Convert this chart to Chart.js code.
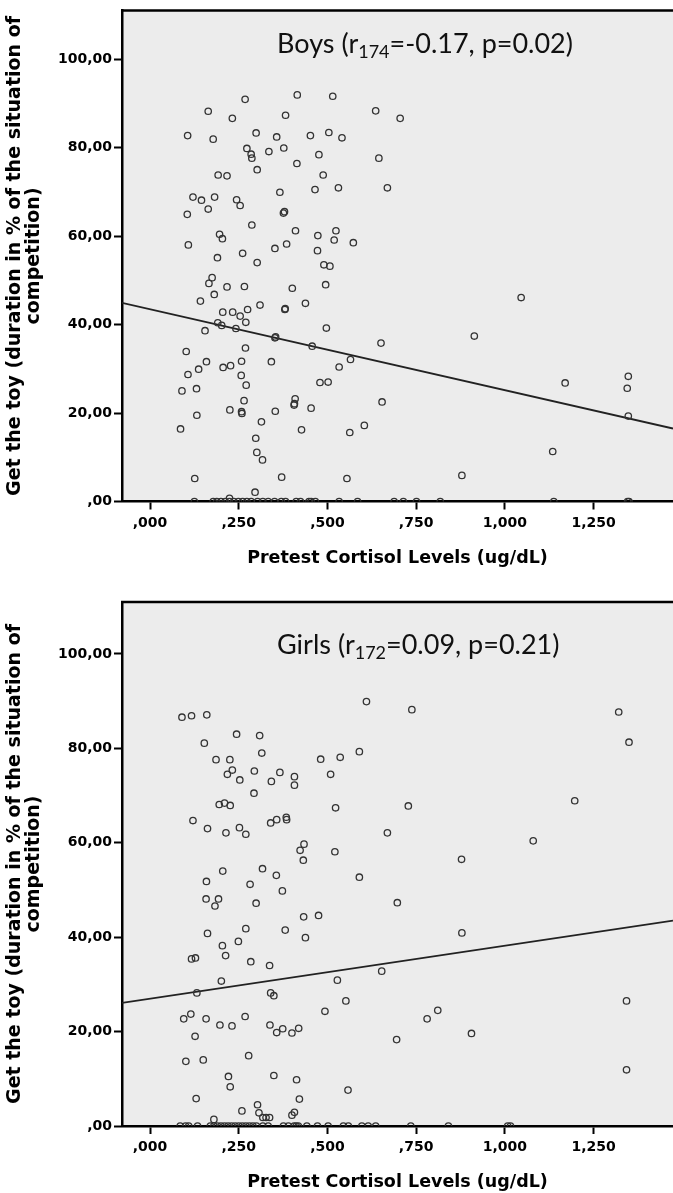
<!DOCTYPE html>
<html>
<head>
<meta charset="utf-8">
<script src="https://cdn.jsdelivr.net/npm/chart.js@4.4.1/dist/chart.umd.min.js"></script>
<style>
    html, body { margin: 0; padding: 0; background: #fff; }
    .page { position: relative; width: 673px; height: 1193px; }
    .panel { position: absolute; left: 0; width: 673px; }
    #boysBox { top: 0; height: 590px; }
    #girlsBox { top: 590px; height: 603px; }
</style>
</head>
<body>
<div class="page">
    <div class="panel" id="boysBox"><canvas id="boysChart"></canvas></div>
    <div class="panel" id="girlsBox"><canvas id="girlsChart"></canvas></div>
</div>
<script>
// Axis ticks and labels (SPSS style, comma decimals)
const xTickValues = [0, 0.25, 0.5, 0.75, 1.0, 1.25];
const xTickLabels = [',000', ',250', ',500', ',750', '1,000', '1,250'];
const yTickValues = [0, 20, 40, 60, 80, 100];
const yTickLabels = [',00', '20,00', '40,00', '60,00', '80,00', '100,00'];
const xRange = [-0.079, 1.474];
const yRange = [0, 111];

// Boys: pretest cortisol (x) vs % duration getting the toy (y)
const boysX = [
    0.268, 0.415, 0.515, 0.164, 0.232, 0.382, 0.636, 0.705, 0.106, 0.178,
    0.299, 0.357, 0.452, 0.504, 0.541, 0.273, 0.285, 0.287, 0.335, 0.377,
    0.476, 0.645, 0.414, 0.302, 0.192, 0.217, 0.488, 0.465, 0.531, 0.669,
    0.121, 0.145, 0.182, 0.244, 0.254, 0.164, 0.366, 0.105, 0.376, 0.379,
    0.287, 0.410, 0.473, 0.524, 0.519, 0.573, 0.196, 0.204, 0.108, 0.352,
    0.385, 0.261, 0.190, 0.472, 0.302, 0.490, 0.507, 0.175, 0.166, 0.181,
    0.217, 0.266, 0.401, 0.495, 0.142, 0.310, 0.438, 0.380, 0.381, 0.205,
    0.233, 0.254, 0.275, 0.191, 0.202, 0.270, 0.155, 0.242, 0.352, 0.354,
    0.497, 0.457, 0.651, 0.102, 0.269, 0.565, 0.159, 0.137, 0.107, 0.206,
    0.227, 0.258, 0.342, 0.257, 0.271, 0.533, 0.479, 0.502, 0.090, 0.131,
    0.265, 0.409, 0.406, 0.407, 0.654, 0.225, 0.258, 0.259, 0.132, 0.353,
    0.454, 0.086, 0.314, 0.427, 0.563, 0.604, 0.298, 0.301, 0.317, 0.126,
    0.371, 0.555, 0.296, 0.224, 1.046, 0.914, 1.170, 1.348, 1.345, 1.348,
    1.135, 0.879,
    0.125, 0.178, 0.188, 0.200, 0.212, 0.224, 0.236, 0.249, 0.261, 0.273,
    0.285, 0.303, 0.318, 0.333, 0.351, 0.370, 0.382, 0.412, 0.424, 0.448,
    0.454, 0.466, 0.533, 0.585, 0.688, 0.714, 0.751, 0.818, 1.138, 1.346,
    1.350
];
const boysY = [
    90.9, 91.9, 91.6, 88.2, 86.6, 87.3, 88.3, 86.6, 82.7, 81.9,
    83.3, 82.4, 82.7, 83.4, 82.2, 79.8, 78.5, 77.6, 79.1, 79.9,
    78.4, 77.6, 76.4, 75.0, 73.8, 73.6, 73.8, 70.5, 70.9, 70.9,
    68.8, 68.1, 68.8, 68.2, 66.9, 66.1, 69.9, 64.9, 65.2, 65.5,
    62.5, 61.2, 60.1, 61.2, 59.1, 58.5, 60.4, 59.4, 58.0, 57.2,
    58.2, 56.1, 55.1, 56.7, 54.0, 53.5, 53.2, 50.6, 49.3, 46.8,
    48.5, 48.6, 48.2, 49.0, 45.3, 44.4, 44.8, 43.4, 43.6, 42.8,
    42.8, 41.9, 43.4, 40.4, 39.8, 40.5, 38.6, 39.1, 37.0, 37.2,
    39.2, 35.1, 35.8, 33.9, 34.7, 32.1, 31.6, 29.9, 28.7, 30.3,
    30.7, 31.7, 31.6, 28.5, 26.3, 30.4, 26.9, 27.0, 25.0, 25.5,
    22.8, 23.2, 21.8, 22.1, 22.5, 20.7, 20.3, 19.9, 19.5, 20.4,
    21.1, 16.4, 18.0, 16.2, 15.6, 17.2, 14.3, 11.1, 9.4, 5.2,
    5.5, 5.2, 2.1, 0.7, 46.1, 37.4, 26.8, 28.3, 25.6, 19.3,
    11.3, 5.9,
    0, 0, 0, 0, 0, 0, 0, 0, 0, 0,
    0, 0, 0, 0, 0, 0, 0, 0, 0, 0,
    0, 0, 0, 0, 0, 0, 0, 0, 0, 0,
    0
];

// Girls
const girlsX = [
    0.610, 0.090, 0.117, 0.160, 0.244, 0.309, 0.153, 0.315, 0.590, 0.481,
    0.536, 0.186, 0.225, 0.232, 0.218, 0.294, 0.366, 0.407, 0.407, 0.509,
    0.253, 0.342, 0.293, 0.195, 0.210, 0.226, 0.523, 0.121, 0.162, 0.214,
    0.252, 0.270, 0.340, 0.357, 0.384, 0.385, 0.669, 0.434, 0.423, 0.432,
    0.521, 0.205, 0.317, 0.356, 0.590, 0.159, 0.282, 0.373, 0.158, 0.193,
    0.183, 0.299, 0.697, 0.433, 0.475, 0.270, 0.381, 0.162, 0.438, 0.249,
    0.204, 0.213, 0.117, 0.128, 0.284, 0.337, 0.653, 0.201, 0.528, 0.132,
    0.340, 0.349, 0.552, 0.493, 0.095, 0.115, 0.158, 0.197, 0.231, 0.268,
    0.338, 0.357, 0.374, 0.400, 0.419, 0.695, 0.127, 0.101, 0.150, 0.278,
    0.221, 0.226, 0.349, 0.413, 0.558, 0.130, 0.421, 0.259, 0.303, 0.307,
    0.318, 0.327, 0.337, 0.180, 0.407, 0.400, 1.343, 0.738, 1.321, 1.350,
    0.728, 1.197, 1.080, 0.878, 0.879, 1.343, 0.781, 0.811, 0.906,
    0.085, 0.100, 0.109, 0.134, 0.170, 0.180, 0.190, 0.200, 0.210, 0.220,
    0.230, 0.240, 0.250, 0.260, 0.270, 0.280, 0.290, 0.300, 0.318, 0.333,
    0.376, 0.390, 0.406, 0.412, 0.418, 0.442, 0.472, 0.502, 0.545, 0.559,
    0.597, 0.615, 0.636, 0.735, 0.841, 1.008, 1.016
];
const girlsY = [
    89.9, 86.6, 86.9, 87.1, 83.0, 82.7, 81.1, 79.0, 79.3, 77.7,
    78.1, 77.6, 77.6, 75.4, 74.5, 75.2, 74.9, 74.0, 72.2, 74.5,
    73.3, 73.0, 70.5, 68.1, 68.4, 67.9, 67.4, 64.7, 63.0, 62.1,
    63.2, 61.8, 64.2, 64.9, 65.4, 64.9, 62.1, 59.7, 58.4, 56.3,
    58.1, 54.0, 54.5, 53.1, 52.7, 51.8, 51.2, 49.8, 48.1, 48.1,
    46.6, 47.2, 47.3, 44.3, 44.6, 41.8, 41.5, 40.8, 39.9, 39.1,
    38.2, 36.1, 35.4, 35.6, 34.8, 34.0, 32.8, 30.7, 30.9, 28.2,
    28.2, 27.6, 26.5, 24.3, 22.7, 23.7, 22.7, 21.4, 21.2, 23.2,
    21.4, 19.8, 20.6, 19.7, 20.7, 18.3, 19.0, 13.7, 14.0, 14.9,
    10.5, 8.3, 10.7, 9.8, 7.6, 5.8, 5.7, 3.2, 4.5, 2.8,
    1.8, 1.8, 1.8, 1.4, 2.9, 2.3, 11.9, 88.2, 87.7, 81.3,
    67.8, 68.9, 60.4, 56.5, 40.9, 26.5, 22.7, 24.5, 19.6,
    0, 0, 0, 0, 0, 0, 0, 0, 0, 0,
    0, 0, 0, 0, 0, 0, 0, 0, 0, 0,
    0, 0, 0, 0, 0, 0, 0, 0, 0, 0,
    0, 0, 0, 0, 0, 0, 0
];

// Fit lines, read at the left and right edges of the plot
const fitX = [-0.079, 1.474];
const boysFitY = [44.9, 16.5];
const girlsFitY = [26.1, 43.5];

const toPoints = (xs, ys) => xs.map((x, i) => ({ x: x, y: ys[i] }));

// Grey plot box with a black top edge
const plotBox = {
    id: 'plotBox',
    beforeDraw(chart) {
        const { ctx, chartArea: a } = chart;
        ctx.save();
        ctx.fillStyle = '#ececec';
        ctx.fillRect(a.left, a.top, a.right - a.left, a.bottom - a.top);
        ctx.strokeStyle = '#000';
        ctx.lineWidth = 2.5;
        ctx.beginPath();
        ctx.moveTo(a.left - 1, a.top);
        ctx.lineTo(a.right, a.top);
        ctx.stroke();
        ctx.restore();
    }
};

// Title inside the plot, with a subscript
const panelTitle = {
    id: 'panelTitle',
    afterDraw(chart, args, opts) {
        const ctx = chart.ctx;
        let x = opts.x;
        ctx.save();
        ctx.fillStyle = '#111';
        ctx.textBaseline = 'alphabetic';
        opts.parts.forEach(p => {
            ctx.font = (p.sub ? '18px' : '27px') + ' Lato';
            ctx.fillText(p.text, x, opts.y + (p.sub ? 5 : 0));
            x += ctx.measureText(p.text).width;
        });
        ctx.restore();
    }
};

function makeChart(canvasId, xs, ys, fitY, titleParts, titleY, topPad, xAxisHeight, xTitlePad) {
    const ctx = document.getElementById(canvasId).getContext('2d');
    return new Chart(ctx, {
        type: 'scatter',
        data: {
            datasets: [
                {
                    data: toPoints(xs, ys),
                    pointStyle: 'circle',
                    pointRadius: 3.2,
                    pointBorderWidth: 1.3,
                    pointBorderColor: '#333',
                    pointBackgroundColor: 'rgba(0,0,0,0)',
                    showLine: false
                },
                {
                    type: 'line',
                    data: toPoints(fitX, fitY),
                    borderColor: '#222',
                    borderWidth: 1.8,
                    pointRadius: 0,
                    fill: false
                }
            ]
        },
        options: {
            responsive: true,
            maintainAspectRatio: false,
            animation: false,
            layout: {
                autoPadding: false,
                padding: { top: topPad, left: 0, right: 0, bottom: 0 }
            },
            plugins: {
                legend: { display: false },
                tooltip: { enabled: false },
                panelTitle: { parts: titleParts, x: 277, y: titleY }
            },
            scales: {
                x: {
                    type: 'linear',
                    min: xRange[0],
                    max: xRange[1],
                    afterBuildTicks: scale => {
                        scale.ticks = xTickValues.map(v => ({ value: v }));
                    },
                    afterFit: scale => { scale.height = xAxisHeight; },
                    ticks: {
                        autoSkip: false,
                        maxRotation: 0,
                        padding: 5,
                        color: '#000',
                        font: { family: 'DejaVu Sans', size: 14, weight: 'bold' },
                        callback: (value, index) => xTickLabels[index]
                    },
                    grid: {
                        drawOnChartArea: false,
                        tickLength: 8,
                        tickWidth: 2,
                        tickColor: '#000'
                    },
                    border: { color: '#000', width: 2.5 },
                    title: {
                        display: true,
                        text: 'Pretest Cortisol Levels (ug/dL)',
                        color: '#000',
                        font: { family: 'DejaVu Sans', size: 17.5, weight: 'bold' },
                        padding: { top: 0, bottom: xTitlePad }
                    }
                },
                y: {
                    type: 'linear',
                    min: yRange[0],
                    max: yRange[1],
                    afterBuildTicks: scale => {
                        scale.ticks = yTickValues.map(v => ({ value: v }));
                    },
                    afterFit: scale => { scale.width = 122; },
                    ticks: {
                        autoSkip: false,
                        padding: 2,
                        color: '#000',
                        font: { family: 'DejaVu Sans', size: 14, weight: 'bold' },
                        callback: (value, index) => yTickLabels[index]
                    },
                    grid: {
                        drawOnChartArea: false,
                        tickLength: 8,
                        tickWidth: 2,
                        tickColor: '#000'
                    },
                    border: { color: '#000', width: 2.5 },
                    title: {
                        display: true,
                        text: ['Get the toy (duration in % of the situation of', 'competition)'],
                        color: '#000',
                        font: { family: 'DejaVu Sans', size: 19, weight: 'bold', lineHeight: 1.0 },
                        padding: { top: 5.5, bottom: 0 }
                    }
                }
            }
        },
        plugins: [plotBox, panelTitle]
    });
}

makeChart('boysChart', boysX, boysY, boysFitY,
    [{ text: 'Boys (r' }, { text: '174', sub: true }, { text: '=-0.17, p=0.02)' }],
    53, 10, 88.5, 21.5);

makeChart('girlsChart', girlsX, girlsY, girlsFitY,
    [{ text: 'Girls (r' }, { text: '172', sub: true }, { text: '=0.09, p=0.21)' }],
    64, 12, 67, 0);
</script>
</body>
</html>
